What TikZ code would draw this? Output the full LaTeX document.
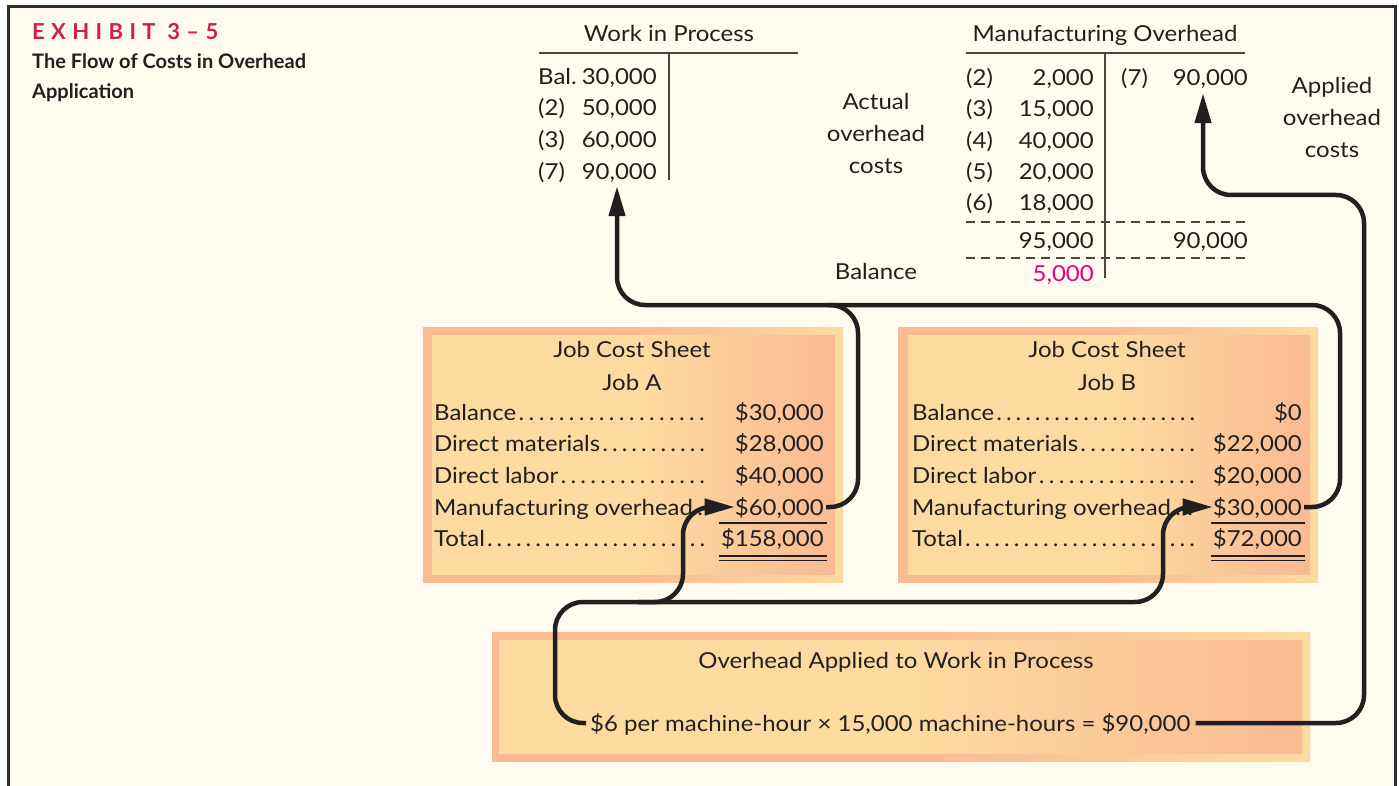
\documentclass[tikz,border=0pt]{standalone}
\usepackage{fontspec}
\setmainfont{Lato}[FakeStretch=1.09]
\newfontfamily\headfont{Lato}
\usetikzlibrary{arrows.meta}

\definecolor{cream}{HTML}{FFFCEF}
\definecolor{ink}{HTML}{231F20}
\definecolor{salmon}{HTML}{F9BA94}
\definecolor{straw}{HTML}{FDDBA0}
\definecolor{crimson}{HTML}{CE2148}
\definecolor{balpink}{HTML}{E5007D}
\definecolor{framegray}{HTML}{2E2E2E}
\definecolor{rulegray}{HTML}{4A4646}

\newcommand\bodysize{\fontsize{22pt}{26pt}\selectfont}
% label followed by a dot leader up to a fixed width
\newcommand\leaderrow[2]{\makebox[#1][l]{#2\xleaders\hbox to 9.6pt{\hss.\hss}\hfill}}

\tikzset{
  txt/.style={inner sep=0pt, text=ink, font=\bodysize, text height=16pt, text depth=0pt},
  lft/.style={txt, anchor=base west},
  rgt/.style={txt, anchor=base east},
  ctr/.style={txt, anchor=base},
  flow/.style={draw=ink, line width=4.5pt, rounded corners=28pt},
  tip/.style={-{Triangle[length=30pt,width=16pt]}},
  sumrule/.style={draw=ink, line width=1.8pt},
  tline/.style={draw=rulegray, line width=1.6pt},
  dashrule/.style={draw=rulegray, line width=1.4pt, dash pattern=on 9pt off 6pt},
  heading/.style={anchor=base west, inner sep=0pt, text=ink,
                  font={\headfont\fontsize{20pt}{24pt}\selectfont\bfseries}},
}

\begin{document}
\begin{tikzpicture}[x=1pt, y=-1pt]
\useasboundingbox (0,0) rectangle (1399,786);

% page and exhibit frame
\fill[white] (0,0) rectangle (1399,786);
\fill[cream] (8,7) rectangle (1395,786);
\draw[framegray, line width=3pt] (8,790) -- (8,7) -- (1395,7) -- (1395,790);

% exhibit heading
\node[anchor=base west, inner sep=0pt, text=crimson,
      font={\headfont\fontsize{22pt}{24pt}\selectfont\bfseries\addfontfeatures{LetterSpace=29}}]
  (exh) at (32,40) {EXHIBIT 3–5};
\node[heading] (sub1) at (32,69) {The Flow of Costs in Overhead};
\node[heading] (sub2) at (32,99) {Application};

% ---------- Work in Process T-account ----------
\node[ctr] (wiptitle) at (669,42) {Work in Process};
\draw[tline] (539,53) -- (798,53);
\draw[tline] (669,53) -- (669,180);
\node[lft] (wipl1) at (538,85) {Bal.};   \node[rgt] (wip30) at (657,85) {30,000};
\node[lft] (wipl2) at (538,116) {(2)};   \node[rgt] (wip50) at (657,116) {50,000};
\node[lft] (wipl3) at (538,148) {(3)};   \node[rgt] (wip60) at (657,148) {60,000};
\node[lft] (wipl7) at (538,180) {(7)};   \node[rgt] (wip90) at (657,180) {90,000};

% ---------- side captions ----------
\node[ctr] (act1) at (876,110) {Actual};
\node[ctr] (act2) at (876,142) {overhead};
\node[ctr] (act3) at (876,174) {costs};
\node[ctr] (bal)  at (876,279) {Balance};
\node[ctr] (app1) at (1332,94) {Applied};
\node[ctr] (app2) at (1332,126) {overhead};
\node[ctr] (app3) at (1332,158) {costs};

% ---------- Manufacturing Overhead T-account ----------
\node[ctr] (mohtitle) at (1105,42) {Manufacturing Overhead};
\draw[tline] (966,53) -- (1245,53);
\draw[tline] (1105,53) -- (1105,278);
\node[lft] (mohl2) at (966,86)  {(2)};  \node[rgt] (moh2)  at (1094,86)  {2,000};
\node[lft] (mohl3) at (966,117) {(3)};  \node[rgt] (moh15) at (1094,117) {15,000};
\node[lft] (mohl4) at (966,149) {(4)};  \node[rgt] (moh40) at (1094,149) {40,000};
\node[lft] (mohl5) at (966,180) {(5)};  \node[rgt] (moh20) at (1094,180) {20,000};
\node[lft] (mohl6) at (966,211) {(6)};  \node[rgt] (moh18) at (1094,211) {18,000};
\node[lft] (mohr7) at (1121,86) {(7)};  \node[rgt] (moh90r) at (1248,86) {90,000};
\draw[dashrule] (966,222) -- (1245,222);
\node[rgt] (mohdr) at (1094,248) {95,000};
\node[rgt] (mohcr) at (1248,248) {90,000};
\draw[dashrule] (966,258) -- (1245,258);
\node[rgt, text=balpink] (mohbal) at (1094,281) {5,000};

% ---------- Job A cost sheet ----------
\shade[left color=salmon, right color=straw, middle color=salmon] (423,327) rectangle (843,582);
\shade[left color=straw, right color=salmon, middle color=straw] (432,335) rectangle (835,574);
\node[ctr] (jah1) at (632,357) {Job Cost Sheet};
\node[ctr] (jah2) at (632,390) {Job A};
\node[lft] (jal1) at (434,420) {\leaderrow{273pt}{Balance}};
\node[lft] (jal2) at (434,451) {\leaderrow{273pt}{Direct materials}};
\node[lft] (jal3) at (434,483) {\leaderrow{273pt}{Direct labor}};
\node[lft] (jal4) at (434,515) {\leaderrow{273pt}{Manufacturing overhead}};
\node[lft] (jal5) at (434,546) {\leaderrow{273pt}{Total}};
\node[rgt] (a30)  at (824,420) {\$30,000};
\node[rgt] (a28)  at (824,451) {\$28,000};
\node[rgt] (a40)  at (824,483) {\$40,000};
\node[rgt] (a60)  at (824,515) {\$60,000};
\node[rgt] (a158) at (824,546) {\$158,000};
\draw[sumrule] (719,523) -- (827,523);
\draw[sumrule] (719,556) -- (827,556);
\draw[sumrule] (719,560.5) -- (827,560.5);

% ---------- Job B cost sheet ----------
\shade[left color=salmon, right color=straw, middle color=salmon] (898,327) rectangle (1318,582);
\shade[left color=straw, right color=salmon, middle color=straw] (908,335) rectangle (1310,574);
\node[ctr] (jbh1) at (1107,357) {Job Cost Sheet};
\node[ctr] (jbh2) at (1107,390) {Job B};
\node[lft] (jbl1) at (912,420) {\leaderrow{285pt}{Balance}};
\node[lft] (jbl2) at (912,451) {\leaderrow{285pt}{Direct materials}};
\node[lft] (jbl3) at (912,483) {\leaderrow{285pt}{Direct labor}};
\node[lft] (jbl4) at (912,515) {\leaderrow{285pt}{Manufacturing overhead}};
\node[lft] (jbl5) at (912,546) {\leaderrow{285pt}{Total}};
\node[rgt] (b0)  at (1302,420) {\$0};
\node[rgt] (b22) at (1302,451) {\$22,000};
\node[rgt] (b20) at (1302,483) {\$20,000};
\node[rgt] (b30) at (1302,515) {\$30,000};
\node[rgt] (b72) at (1302,546) {\$72,000};
\draw[sumrule] (1211,523) -- (1305,523);
\draw[sumrule] (1211,556) -- (1305,556);
\draw[sumrule] (1211,560.5) -- (1305,560.5);

% ---------- overhead application box ----------
\shade[left color=salmon, right color=straw, middle color=salmon] (492,632) rectangle (1310,761);
\shade[left color=straw, right color=salmon, middle color=straw] (499,640) rectangle (1302,753);
\node[ctr] (ovtitle) at (896,668) {Overhead Applied to Work in Process};
\node[lft] (rate) at (590,731) {\$6 per machine-hour × 15,000 machine-hours = \$90,000};

% ---------- flow of costs ----------
\coordinate (ja)  at (858,305);
\coordinate (jb)  at (1340,305);
\coordinate (wb)  at (617,305);
\coordinate (wiptip) at ([yshift=-6pt]wip90.south);
\coordinate (r1)  at (555,602);
\coordinate (aj)  at (683,602);
\coordinate (bj)  at (1163,602);
\coordinate (c2a) at (1364,195);
\coordinate (c2b) at (1203,195);
\coordinate (mohtip) at ([yshift=-7pt]moh90r.south);

% job sheets charged to Work in Process
\draw[flow, tip] ([xshift=2pt]a60.east) -| (ja) -- (wb) -- (wb |- wiptip);
\draw[flow] ([xshift=2pt]b30.east) -| (jb) -- ([xshift=-30pt]ja);

% predetermined rate applied to each job
\draw[flow, tip] ([xshift=-4pt]rate.west) -| (r1) -- (bj) -- (bj |- b30.west)
  [rounded corners=20pt] -- (b30.west);
\draw[flow, tip] ([xshift=-45pt]aj) -- (aj) -- (aj |- a60.west)
  [rounded corners=20pt] -- (a60.west);

% applied overhead credited to Manufacturing Overhead
\draw[flow, tip] ([xshift=5pt]rate.east) -| (c2a) -- (c2b) -- (c2b |- mohtip);
\end{tikzpicture}
\end{document}
